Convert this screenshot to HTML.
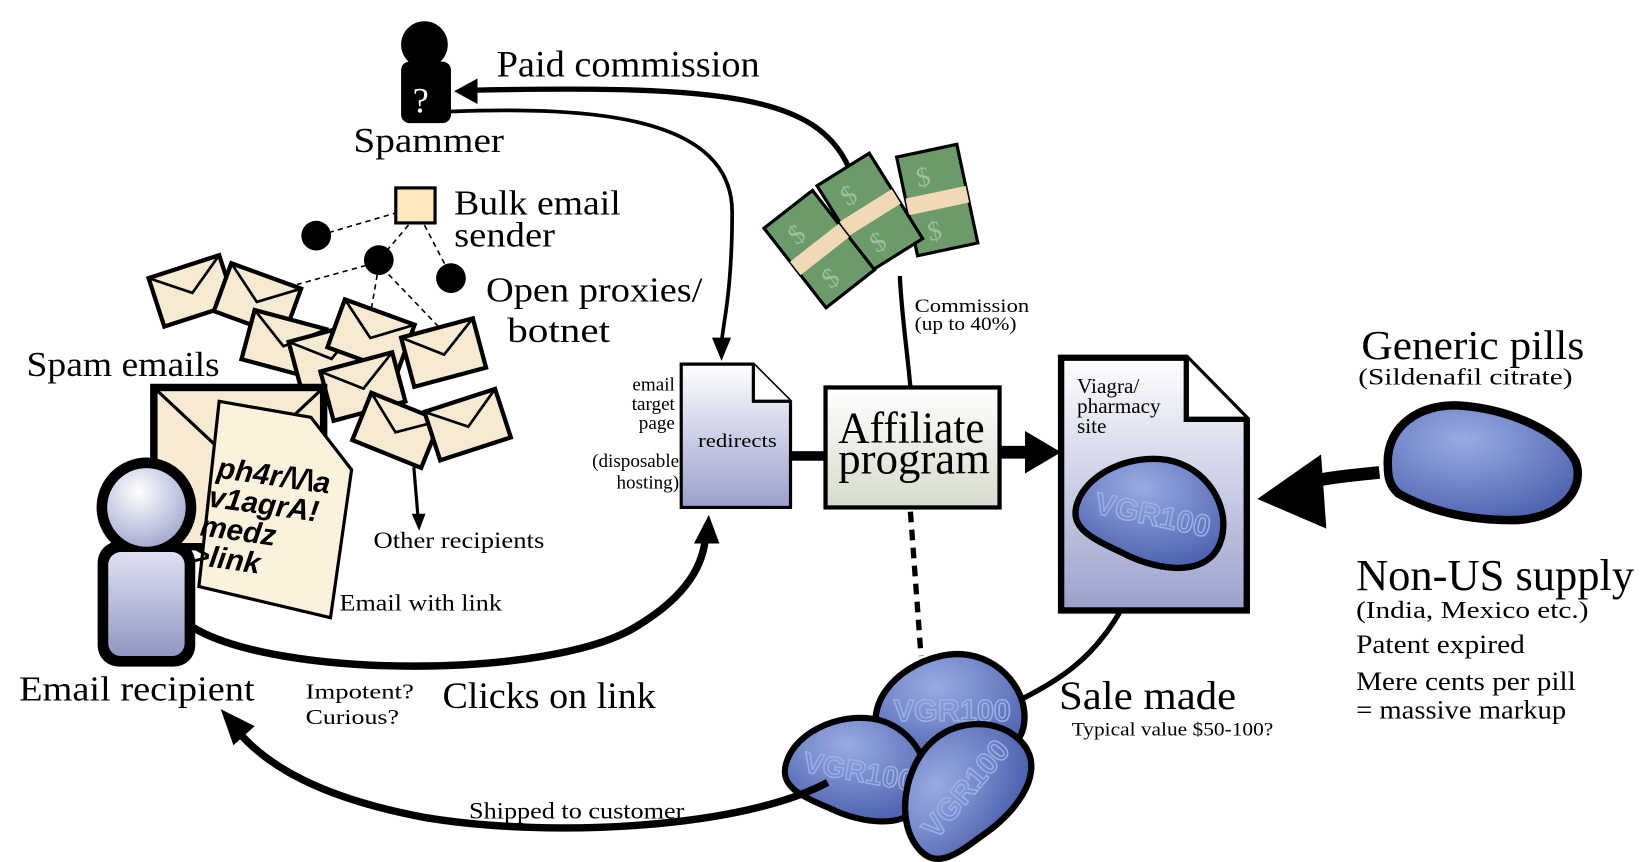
<!DOCTYPE html>
<html><head><meta charset="utf-8"><style>
html,body{margin:0;padding:0;background:#fff;width:1650px;height:862px;overflow:hidden}
svg{display:block}
text{font-family:"Liberation Serif",serif;fill:#000}
.s{font-family:"Liberation Sans",sans-serif;font-weight:bold;font-style:italic}
.pt{font-family:"Liberation Sans",sans-serif;font-weight:bold;fill:none;stroke:#9fb0e6;stroke-width:1.2}
</style></head><body>
<svg width="1650" height="862" viewBox="0 0 1555 812" preserveAspectRatio="none" xmlns="http://www.w3.org/2000/svg">
<defs>
<radialGradient id="pg" cx="0.4" cy="0.3" r="0.8"><stop offset="0" stop-color="#ffffff"/><stop offset="1" stop-color="#9aa2cc"/></radialGradient>
<linearGradient id="dg" x1="0" y1="0" x2="0" y2="1"><stop offset="0" stop-color="#fff"/><stop offset="1" stop-color="#9aa0cc"/></linearGradient>
<linearGradient id="bg" x1="0" y1="0" x2="0" y2="1"><stop offset="0" stop-color="#dfe1f0"/><stop offset="1" stop-color="#8f97c4"/></linearGradient>
<linearGradient id="ag" x1="0" y1="0" x2="0" y2="1"><stop offset="0" stop-color="#fff"/><stop offset="1" stop-color="#d6dccb"/></linearGradient>
<radialGradient id="pill" cx="0.4" cy="0.3" r="0.75"><stop offset="0" stop-color="#9aabe2"/><stop offset="1" stop-color="#4d62b0"/></radialGradient>
<g id="env"><rect x="0" y="0" width="70" height="48" fill="#f6ead2" stroke="#000" stroke-width="4"/><path d="M0 0 L35 26 L70 0" fill="none" stroke="#000" stroke-width="2.5"/></g>
<g id="cash"><rect x="0" y="0" width="58" height="95" fill="#6b9a6b" stroke="#000" stroke-width="3"/><rect x="0" y="40" width="58" height="16" fill="#f1d9b5"/><text x="14" y="32" font-size="26" fill="#9cc09c" style="fill:#9cc09c">$</text><text x="14" y="84" font-size="26" style="fill:#9cc09c">$</text></g>
<g id="pl"><path d="M-58 8 C-55 -22 -15 -45 15 -40 C45 -35 65 -5 57 20 C48 45 10 45 -15 38 C-40 32 -60 28 -58 8Z" fill="url(#pill)" stroke="#000" stroke-width="5"/><text x="-44" y="12" font-size="24" class="pt">VGR100</text></g>
</defs>

<!-- Spammer -->
<circle cx="400" cy="42" r="22" fill="#000"/>
<rect x="378" y="58" width="47" height="58" rx="8" fill="#000"/>
<text x="389" y="106" font-size="34" style="fill:#fff">?</text>
<text x="333" y="143" font-size="33" textLength="142" lengthAdjust="spacingAndGlyphs">Spammer</text>
<text x="468" y="72" font-size="35" textLength="248" lengthAdjust="spacingAndGlyphs">Paid commission</text>
<path d="M800 158 C770 90 680 80 445 85" fill="none" stroke="#000" stroke-width="5"/>
<path d="M428 86 L450 74 L450 98Z" fill="#000"/>
<path d="M425 105 C560 100 690 110 690 200 C690 280 680 310 680 325" fill="none" stroke="#000" stroke-width="3.5"/>
<path d="M680 340 L671 318 L689 318Z" fill="#000"/>

<!-- Bulk sender / botnet -->
<g stroke="#000" stroke-width="1.5" stroke-dasharray="5,4" fill="none">
<path d="M375 200 L300 222"/><path d="M385 212 L357 245"/><path d="M400 212 L425 260"/>
<path d="M345 250 L280 268"/><path d="M357 250 L345 320"/><path d="M360 252 L425 320"/>
</g>
<rect x="373" y="177" width="37" height="33" fill="#fde9bd" stroke="#000" stroke-width="3"/>
<circle cx="298" cy="222" r="14"/><circle cx="357" cy="245" r="14"/><circle cx="425" cy="262" r="14"/>
<text x="428" y="202" font-size="33" textLength="157" lengthAdjust="spacingAndGlyphs">Bulk email</text>
<text x="428" y="232" font-size="33" textLength="95" lengthAdjust="spacingAndGlyphs">sender</text>
<text x="458" y="284" font-size="33" textLength="204" lengthAdjust="spacingAndGlyphs">Open proxies/</text>
<text x="478" y="322" font-size="33" textLength="97" lengthAdjust="spacingAndGlyphs">botnet</text>
<text x="25" y="354" font-size="33" textLength="182" lengthAdjust="spacingAndGlyphs">Spam emails</text>

<!-- Envelopes -->
<use href="#env" transform="translate(140,262) rotate(-18)"/>
<use href="#env" transform="translate(218,248) rotate(20)"/>
<use href="#env" transform="translate(240,292) rotate(15)"/>
<use href="#env" transform="translate(272,322) rotate(-15)"/>
<use href="#env" transform="translate(325,282) rotate(20)"/>
<use href="#env" transform="translate(378,318) rotate(-15)"/>
<use href="#env" transform="translate(302,350) rotate(-15)"/>
<use href="#env" transform="translate(350,370) rotate(22)"/>
<use href="#env" transform="translate(400,388) rotate(-18)"/>
<!-- big envelope -->
<rect x="145" y="365" width="160" height="150" fill="#f6ead2" stroke="#000" stroke-width="7"/>
<path d="M145 365 L225 440 L305 365" fill="none" stroke="#000" stroke-width="3"/>
<path d="M203 380 L290 392 L330 440 L315 580 L190 555Z" fill="#fbf1dc" stroke="#000" stroke-width="3" transform="rotate(2 260 480)"/>
<g transform="rotate(8 260 480)">
<text class="s" x="200" y="458" font-size="28">ph4r/\/\a</text>
<text class="s" x="196" y="486" font-size="28">v1agrA!</text>
<text class="s" x="192" y="514" font-size="28">medz</text>
<text class="s" x="188" y="542" font-size="28">&gt;link</text>
</g>
<text x="320" y="575" font-size="22" textLength="153" lengthAdjust="spacingAndGlyphs">Email with link</text>
<path d="M390 440 L394 488" stroke="#000" stroke-width="3"/>
<path d="M395 500 L388 484 L401 484Z"/>
<text x="352" y="516" font-size="22" textLength="161" lengthAdjust="spacingAndGlyphs">Other recipients</text>

<!-- Person -->
<path d="M180 590 C260 640 520 640 600 590 C650 560 663 530 665 505" fill="none" stroke="#000" stroke-width="7"/>
<path d="M668 485 L654 512 L678 512Z"/>
<circle cx="138" cy="478" r="47" fill="#000"/>
<rect x="92" y="510" width="92" height="118" rx="20" fill="#000"/>
<circle cx="138" cy="478" r="37" fill="url(#pg)"/>
<rect x="102" y="520" width="72" height="98" rx="12" fill="url(#bg)"/>
<text x="18" y="660" font-size="33" textLength="222" lengthAdjust="spacingAndGlyphs">Email recipient</text>
<text x="288" y="658" font-size="20" textLength="102" lengthAdjust="spacingAndGlyphs">Impotent?</text>
<text x="288" y="682" font-size="20" textLength="88" lengthAdjust="spacingAndGlyphs">Curious?</text>
<text x="417" y="667" font-size="35" textLength="201" lengthAdjust="spacingAndGlyphs">Clicks on link</text>

<!-- Email target page -->
<path d="M642 343 L710 343 L745 378 L745 478 L642 478Z" fill="url(#dg)" stroke="#000" stroke-width="3"/>
<path d="M710 343 L710 378 L745 378" fill="#fff" stroke="#000" stroke-width="3"/>
<text x="658" y="421" font-size="18" textLength="74" lengthAdjust="spacingAndGlyphs">redirects</text>
<g font-size="18" text-anchor="end"><text x="636" y="368">email</text><text x="636" y="386">target</text><text x="636" y="404">page</text><text x="640" y="440">(disposable</text><text x="640" y="460">hosting)</text></g>
<rect x="745" y="425" width="35" height="9"/>

<!-- Money -->
<path d="M858 365 C855 330 850 300 848 260" stroke="#000" stroke-width="4" fill="none"/>
<use href="#cash" transform="translate(845,148) rotate(-12)"/>
<use href="#cash" transform="translate(770,175) rotate(-32)"/>
<use href="#cash" transform="translate(720,215) rotate(-38)"/>
<text x="862" y="294" font-size="18" textLength="108" lengthAdjust="spacingAndGlyphs">Commission</text>
<text x="862" y="311" font-size="18" textLength="96" lengthAdjust="spacingAndGlyphs">(up to 40%)</text>

<!-- Affiliate -->
<rect x="778" y="365" width="164" height="113" fill="url(#ag)" stroke="#000" stroke-width="4"/>
<text x="790" y="417" font-size="42" textLength="138" lengthAdjust="spacingAndGlyphs">Affiliate</text>
<text x="790" y="446" font-size="42" textLength="143" lengthAdjust="spacingAndGlyphs">program</text>
<rect x="942" y="420" width="28" height="12"/>
<path d="M1000 426 L966 406 L966 446Z"/>
<path d="M858 482 L868 618" stroke="#000" stroke-width="5" stroke-dasharray="10,7"/>

<!-- Viagra site -->
<path d="M1000 337 L1118 337 L1175 395 L1175 575 L1000 575Z" fill="url(#dg)" stroke="#000" stroke-width="6"/>
<path d="M1118 337 L1118 395 L1175 395" fill="#fff" stroke="#000" stroke-width="5"/>
<text x="1015" y="370" font-size="20">Viagra/</text>
<text x="1015" y="389" font-size="20">pharmacy</text>
<text x="1015" y="408" font-size="20">site</text>
<use href="#pl" transform="translate(1085,480) rotate(12) scale(1.2)"/>
<path d="M1055 577 C1030 620 1000 640 960 660" fill="none" stroke="#000" stroke-width="5"/>

<!-- Generic pill -->
<path d="M1300 445 C1270 448 1250 450 1230 455" stroke="#000" stroke-width="12" fill="none"/>
<path d="M1185 470 L1245 428 L1250 498Z"/>
<path d="M1308 440 C1305 400 1340 380 1375 382 C1420 385 1470 405 1485 435 C1495 465 1465 490 1425 490 C1380 490 1345 480 1318 465 C1310 458 1308 450 1308 440Z" fill="url(#pill)" stroke="#000" stroke-width="8"/>
<text x="1283" y="338" font-size="39" textLength="210" lengthAdjust="spacingAndGlyphs">Generic pills</text>
<text x="1280" y="362" font-size="22" textLength="202" lengthAdjust="spacingAndGlyphs">(Sildenafil citrate)</text>
<text x="1278" y="556" font-size="42" textLength="262" lengthAdjust="spacingAndGlyphs">Non-US supply</text>
<text x="1278" y="582" font-size="23" textLength="219" lengthAdjust="spacingAndGlyphs">(India, Mexico etc.)</text>
<text x="1278" y="615" font-size="25" textLength="159" lengthAdjust="spacingAndGlyphs">Patent expired</text>
<text x="1278" y="650" font-size="25" textLength="207" lengthAdjust="spacingAndGlyphs">Mere cents per pill</text>
<text x="1278" y="677" font-size="25" textLength="198" lengthAdjust="spacingAndGlyphs">= massive markup</text>

<!-- Pill cluster -->
<use href="#pl" transform="translate(895,665) scale(1.2)"/>
<use href="#pl" transform="translate(808,722) rotate(10) scale(1.15)"/>
<use href="#pl" transform="translate(905,742) rotate(-50) scale(1.2)"/>
<text x="998" y="668" font-size="38" textLength="167" lengthAdjust="spacingAndGlyphs">Sale made</text>
<text x="1010" y="693" font-size="18" textLength="190" lengthAdjust="spacingAndGlyphs">Typical value $50-100?</text>

<!-- Shipped -->
<path d="M780 737 C700 780 520 790 400 770 C320 755 260 730 225 690" fill="none" stroke="#000" stroke-width="7"/>
<path d="M208 668 L240 684 L220 702Z"/>
<text x="442" y="771" font-size="22" textLength="203" lengthAdjust="spacingAndGlyphs">Shipped to customer</text>
</svg>
</body></html>
